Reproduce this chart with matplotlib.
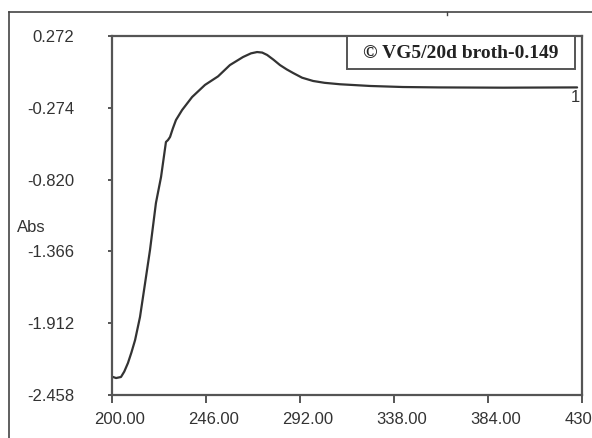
import matplotlib
matplotlib.use("Agg")
import matplotlib.pyplot as plt
from matplotlib.lines import Line2D
from matplotlib.patches import Rectangle
from matplotlib.transforms import ScaledTranslation

# Wavelength (nm) and absorbance
wavelength = [200.5, 202.0, 204.4, 206.0, 207.8, 209.5, 211.3, 213.7, 216.2,
              218.6, 221.5, 224.0, 226.4, 227.4, 228.4, 229.8, 231.3, 234.3,
              239.2, 245.5, 251.9, 257.7, 264.1, 268.0, 271.0, 273.5, 275.9,
              279.0, 282.2, 285.5, 288.6, 293.0, 298.4, 304.0, 311.6, 326.3,
              342.4, 360.0, 391.4, 427.6]
absorbance = [-2.321, -2.329, -2.321, -2.280, -2.215, -2.135, -2.040, -1.865,
              -1.606, -1.355, -0.998, -0.800, -0.534, -0.519, -0.496, -0.430,
              -0.367, -0.291, -0.192, -0.100, -0.035, 0.051, 0.112, 0.140,
              0.150, 0.146, 0.128, 0.092, 0.051, 0.018, -0.009, -0.045,
              -0.070, -0.084, -0.095, -0.108, -0.116, -0.119, -0.121, -0.119]

x_ticks = [200.0, 246.0, 292.0, 338.0, 384.0, 430.0]
x_labels = ["200.00", "246.00", "292.00", "338.00", "384.00", "430.00"]
y_ticks = [0.272, -0.274, -0.820, -1.366, -1.912, -2.458]
y_labels = ["0.272", "-0.274", "-0.820", "-1.366", "-1.912", "-2.458"]
legend_text = "\u00a9 VG5/20d broth-0.149"
trace_label = "1"
y_title = "Abs"

W, H = 592, 438
fig = plt.figure(figsize=(W / 100, H / 100), dpi=100)
fig.patch.set_facecolor("white")

ax = fig.add_axes([112 / W, 1 - 395 / H, (582 - 112) / W, (395 - 36) / H])
ax.plot(wavelength, absorbance, color="#333333", lw=1.6,
        solid_capstyle="round", solid_joinstyle="round")
ax.set_xlim(200, 430)
ax.set_ylim(-2.458, 0.272)

axis_col = "#555555"
for s in ax.spines.values():
    s.set_color(axis_col)
    s.set_linewidth(1.6)

tick_font = dict(family="Liberation Sans", size=12, color="#333333")
ax.set_xticks(x_ticks)
ax.set_xticklabels(x_labels, fontdict=tick_font)
ax.set_yticks(y_ticks)
ax.set_yticklabels(y_labels, fontdict=tick_font)
ax.tick_params(axis="x", direction="out", length=6, width=1.4, color=axis_col, pad=6)
ax.tick_params(axis="y", direction="out", length=3, width=1.4, color=axis_col, pad=24)

off = ScaledTranslation(8 / 100, 0, fig.dpi_scale_trans)
for lab in ax.get_xticklabels():
    lab.set_transform(lab.get_transform() + off)
    lab.set_clip_on(False)

fig.text(17 / W, 1 - 228 / H, y_title, ha="left", va="center", **tick_font)

# legend-like box
fig.patches.append(Rectangle((347 / W, 1 - 69 / H), (575 - 347) / W, (69 - 36) / H,
                             transform=fig.transFigure, fill=True, fc="white",
                             ec=axis_col, lw=1.4, zorder=3))
fig.text(0.5 * (347 + 575) / W, 1 - 53 / H, legend_text,
         ha="center", va="center", family="Liberation Serif", weight="bold",
         size=14, color="#222222", zorder=4)

fig.text(580 / W, 1 - 98 / H, trace_label, ha="right", va="center", **tick_font)

# outer frame lines
fig.add_artist(Line2D([9 / W, 1.0], [1 - 12 / H, 1 - 12 / H], transform=fig.transFigure,
                      color="#444444", lw=1.2))
fig.add_artist(Line2D([9 / W, 9 / W], [0.0, 1 - 12 / H], transform=fig.transFigure,
                      color="#444444", lw=1.2))
fig.add_artist(Line2D([447 / W, 447 / W], [1 - 12 / H, 1 - 15 / H], transform=fig.transFigure,
                      color="#444444", lw=1.0))

fig.savefig("out.png", dpi=100)
